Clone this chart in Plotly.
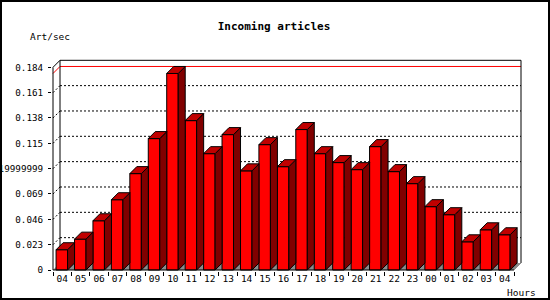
import plotly.graph_objects as go

# ---- data ----
hours = ["04", "05", "06", "07", "08", "09", "10", "11", "12", "13", "14", "15", "16",
         "17", "18", "19", "20", "21", "22", "23", "00", "01", "02", "03", "04"]
art_per_sec = [0.0184, 0.0280, 0.0447, 0.0638, 0.0875, 0.1193, 0.1784, 0.1356, 0.1056,
               0.1229, 0.0900, 0.1138, 0.0938, 0.1275, 0.1056, 0.0975, 0.0911, 0.1120,
               0.0893, 0.0784, 0.0575, 0.0502, 0.0256, 0.0365, 0.0320]
y_tick_vals = [0, 0.023, 0.046, 0.069, 0.092, 0.115, 0.138, 0.161, 0.184]
y_tick_text = ["0", "0.023", "0.046", "0.069", "0.0919999999", "0.115", "0.138", "0.161", "0.184"]

# ---- geometry (pixels -> data units) ----
W, H = 550, 300
KX = 18.44          # px per category band
KY = 202.7 / 0.184  # px per unit of y
L, R, T, B = 52, 28, 59, 29
x0_px, y0_px = 53, 270           # pixel position of data origin
xmin = -(x0_px - L) / KX
xmax = (W - R - x0_px) / KX
ymin = -((H - B) - y0_px) / KY
ymax = (y0_px - T) / KY
DX = 7 / KX
DY = 7 / KY
N = len(hours)
YTOP = y_tick_vals[-1]

FONT = "DejaVu Sans Mono"
bar_w = 11.5 / KX
centers = [i + 0.5 - 0.4 / KX for i in range(N)]

# sides and tops of 3D bars
side_x, side_y, top_x, top_y = [], [], [], []
for c, v in zip(centers, art_per_sec):
    a, b = c - bar_w / 2, c + bar_w / 2
    side_x += [b, b + DX, b + DX, b, b, None]
    side_y += [0, DY, v + DY, v, 0, None]
    top_x += [a, b, b + DX, a + DX, a, None]
    top_y += [v, v, v + DY, v + DY, v, None]

fig = go.Figure()
fig.add_trace(go.Bar(x=centers, y=art_per_sec, width=bar_w,
                     marker=dict(color="#ff0000", line=dict(color="black", width=1)),
                     hoverinfo="skip", showlegend=False))
fig.add_trace(go.Scatter(x=side_x, y=side_y, mode="lines", fill="toself", fillcolor="#800000",
                         line=dict(color="black", width=1), hoverinfo="skip", showlegend=False))
fig.add_trace(go.Scatter(x=top_x, y=top_y, mode="lines", fill="toself", fillcolor="#c00000",
                         line=dict(color="black", width=1), hoverinfo="skip", showlegend=False))
# dummy trace for the boundary-tick axis
fig.add_trace(go.Scatter(x=[0], y=[0], xaxis="x2", mode="lines", hoverinfo="skip",
                         showlegend=False, line=dict(width=0)))

shapes = []
# floor
shapes.append(dict(type="path", xref="x", yref="y", layer="below",
                   path=f"M0,0 L{N},0 L{N + DX},{DY} L{DX},{DY} Z",
                   fillcolor="#8c8c8c", line=dict(width=0)))
# dotted grid on back wall + diagonal on side wall
for v in y_tick_vals[1:-1]:
    shapes.append(dict(type="line", xref="x", yref="y", layer="below",
                       x0=DX, x1=N + DX, y0=v + DY, y1=v + DY,
                       line=dict(color="black", width=1, dash="2px,2px")))
    shapes.append(dict(type="line", xref="x", yref="y", layer="below",
                       x0=0, x1=DX, y0=v, y1=v + DY,
                       line=dict(color="black", width=1, dash="2px,2px")))
# max line (red)
vmax = max(art_per_sec)
shapes.append(dict(type="path", xref="x", yref="y", layer="below",
                   path=f"M0,{vmax} L{DX},{vmax + DY} L{N + DX},{vmax + DY}",
                   line=dict(color="#ff0000", width=1)))
# frame
frame = (f"M0,0 L0,{YTOP} L{DX},{YTOP + DY} L{N + DX},{YTOP + DY} L{N + DX},{DY} "
         f"M{DX},{YTOP + DY} L{DX},{DY}")
shapes.append(dict(type="path", xref="x", yref="y", layer="below", path=frame,
                   line=dict(color="black", width=1)))
shapes.append(dict(type="line", xref="x", yref="y", layer="below",
                   x0=N, x1=N + DX, y0=0, y1=DY, line=dict(color="#8c8c8c", width=1)))
shapes.append(dict(type="line", xref="x", yref="y", layer="above",
                   x0=0, x1=N, y0=0, y1=0, line=dict(color="black", width=1)))
# outer image border
pw, ph = W - L - R, H - T - B
shapes.append(dict(type="rect", xref="paper", yref="paper", layer="above",
                   x0=-(L - 1) / pw, x1=1 + (R - 1) / pw, y0=-(B - 1) / ph, y1=1 + (T - 1) / ph,
                   line=dict(color="black", width=2)))

fig.update_layout(
    width=W, height=H, template="none",
    margin=dict(l=L, r=R, t=T, b=B, pad=0),
    paper_bgcolor="white", plot_bgcolor="white",
    showlegend=False, shapes=shapes,
    title=dict(text="<b>Incoming articles</b>", x=274 / W, xanchor="center", xref="container",
               y=1 - 26 / H, yanchor="middle", yref="container",
               font=dict(family=FONT, size=11, color="black")),
    xaxis=dict(range=[xmin, xmax], tickmode="array", tickvals=[i + 0.5 for i in range(N)],
               ticktext=hours, ticks="", showgrid=False, zeroline=False, showline=False,
               tickfont=dict(family=FONT, size=9.5, color="black"), automargin=False),
    xaxis2=dict(range=[xmin, xmax], overlaying="x", anchor="y", side="bottom",
                tickmode="array", tickvals=list(range(N + 1)), ticks="outside", ticklen=4,
                tickcolor="black", showticklabels=False, showgrid=False, zeroline=False,
                showline=False, automargin=False),
    yaxis=dict(range=[ymin, ymax], tickmode="array", tickvals=y_tick_vals, ticktext=y_tick_text,
               ticks="outside", ticklen=3, tickcolor="black", showgrid=False, zeroline=False,
               showline=False, tickfont=dict(family=FONT, size=9.25, color="black"),
               ticklabelstandoff=3, automargin=False),
    annotations=[
        dict(text="Art/sec", xref="paper", yref="paper", x=(28 - L) / pw, y=1 + (T - 37) / ph,
             xanchor="left", yanchor="middle", showarrow=False,
             font=dict(family=FONT, size=9.5, color="black")),
        dict(text="Hours", xref="paper", yref="paper", x=(505 - L) / pw, y=-(292 - (H - B)) / ph,
             xanchor="left", yanchor="middle", showarrow=False,
             font=dict(family=FONT, size=9.5, color="black")),
    ],
)

fig.write_html("out.html")
